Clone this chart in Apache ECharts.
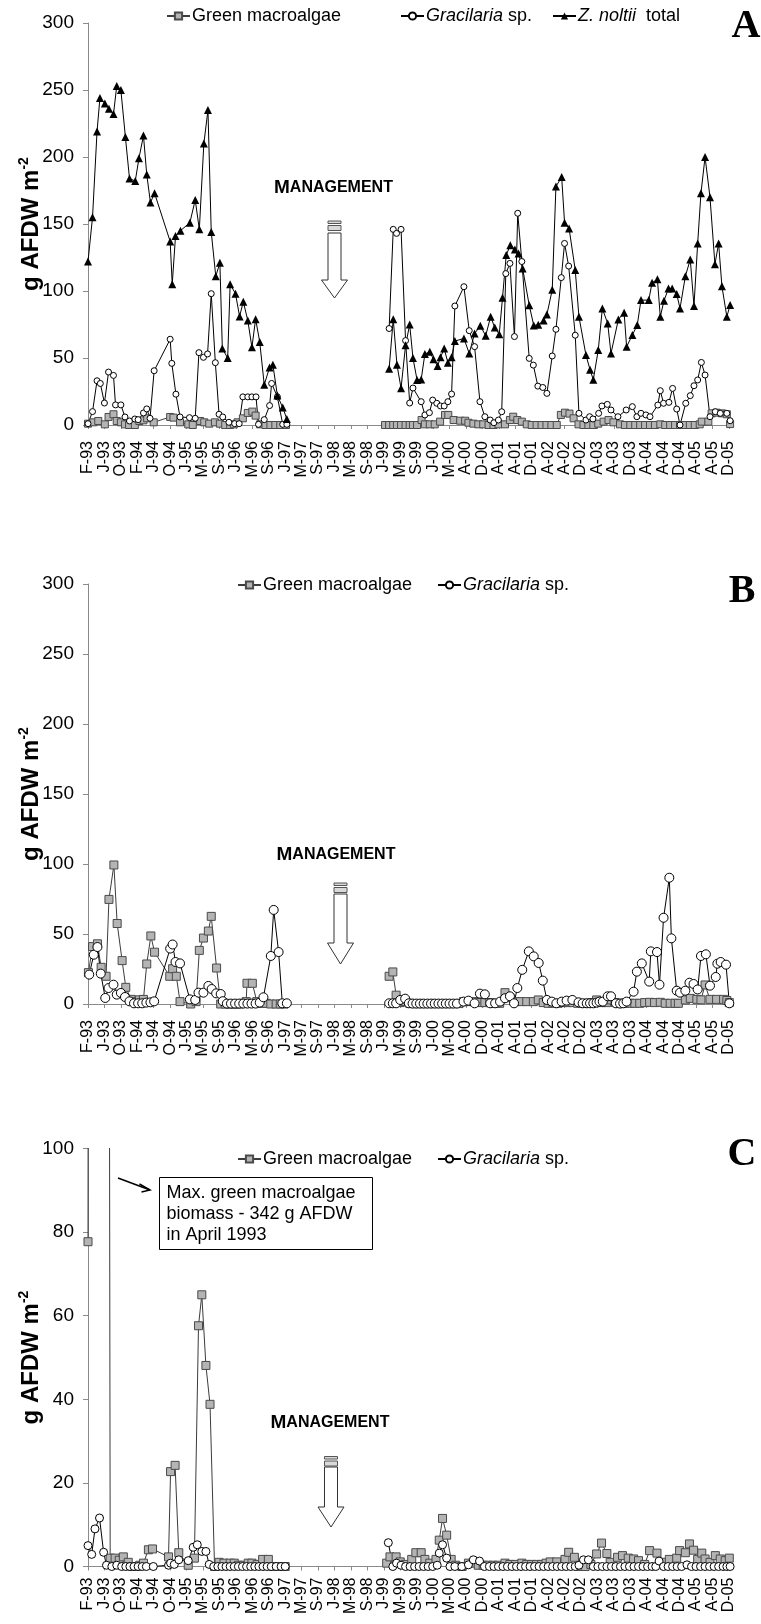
<!DOCTYPE html>
<html>
<head>
<meta charset="utf-8">
<script src="https://cdn.jsdelivr.net/npm/echarts@6/dist/echarts.min.js"></script>
<style>
  html, body { margin: 0; padding: 0; background: #fff; }
  #chart { width: 761px; height: 1624px; }
</style>
</head>
<body>
<div id="chart"></div>
<script>
// x positions are in "slots" (4 slots between two tick labels)
const TICK_LABELS = ['F-93','J-93','O-93','F-94','J-94','O-94','J-95','M-95','S-95','J-96','M-96','S-96',
  'J-97','M-97','S-97','J-98','M-98','S-98','J-99','M-99','S-99','J-00','M-00','A-00','D-00',
  'A-01','A-01','D-01','A-02','A-02','D-02','A-03','A-03','D-03','A-04','A-04','D-04','A-05','A-05','D-05'];
const SLOT_MAX = 157;
const GAP_AT = 60; // no sampling between mid-1997 and mid-1999

// ---- Panel A ----
const A_GREEN = [[0,1],[1.3,2],[2.5,3],[4.1,0.5],[5,6],[6.2,8],[7,3],[8,2],[9,0.5],[10,0],[11.4,0],[12.5,3],[13.5,3.5],[14.4,5],[16,2],
  [20,6],[20.8,5.5],[22.4,2],[24.4,0.5],[25.5,0],[27.3,3],[28.3,2],[29.5,1],[30.9,2],[32.1,1],[33.4,0],[34.6,0],[35.5,0.5],[36.4,2],
  [37.7,5],[38.9,9],[40,10],[40.8,7],[41.9,0.5],[43.2,0],[44.4,0],[45.6,0],[46.8,0],[48.2,0],
  [72.3,0],[73.3,0],[74.3,0],[75.2,0],[76.2,0],[77.3,0],[78.3,0],[79.1,0],[80.1,0],[81.2,3.7],[82,0.5],[83.2,0.5],[84.4,0.5],
  [85.7,2.5],[86.9,7.5],[87.7,7.5],[89,3.7],[90.6,3.2],[91.8,3.2],[92.6,1.7],[93.8,1],[95,0.5],[96.2,0.5],[97.5,0],[98.7,0],
  [99.9,0.5],[101.5,0.5],[102.7,3.7],[103.5,6.2],[104.5,3.7],[105.6,2.5],[106.8,0.5],[108,0],[109.2,0],[110.4,0],[111.6,0],
  [112.8,0],[114.1,0],[115.1,7.5],[116.1,9.2],[117.2,8.5],[118.2,5],[119.4,0.5],[120.6,0],[121.8,0],[123,0],[124.2,1],[125.5,2.5],
  [126.7,3.7],[127.9,2],[129.5,0.5],[130.7,0],[132,0],[133.2,0],[134.4,0],[135.6,0],[136.8,0],[138,0],[139.3,0.5],[140.5,0],
  [141.7,0],[142.9,0],[144.1,0],[145.3,0],[146.5,0],[147.7,0],[148.9,0.5],[149.4,2.5],[151,2.5],[151.8,8.7],[153,9.2],[154.3,8.7],
  [155.5,8],[156.3,0.7]];
const A_GRAC = [[0,1],[1.1,10],[2.2,33],[3,31],[4,16.4],[5,39.5],[6.2,37],[6.7,15],[8,15],[9,6],[10.1,3],[11.4,4.5],[12.2,4],
  [13.5,9],[14.3,12],[15.1,5],[16.1,40.5],[20,64],[20.4,46],[21.4,23],[22.4,6],[24.7,5.5],[26.1,5],[27,54],[28.1,50.5],[29.1,53],
  [30,98],[31,46.5],[31.9,8],[32.8,6],[34.3,2],[35.7,1],[36.8,1],[37.7,21],[38.9,21],[39.9,21],[40.9,21],[41.5,0.5],[42.9,4],
  [44.2,14.5],[44.7,31],[46.1,21],[47.4,0.5],[48.4,0.5],
  [73.3,72],[74.3,146],[75.1,143],[76.2,146],[77.3,63],[78.3,16.4],[79.1,27.6],[81.1,17.4],[82,7.5],[83.1,9.2],[83.9,18.6],
  [84.9,16.2],[85.8,14.2],[86.7,14.2],[87.6,17.4],[88.5,23.1],[89.3,88.8],[91.5,103.2],[92.8,70.4],[94.1,58.5],[95.4,17.4],
  [96.6,6.2],[97.9,3.7],[98.8,1.7],[99.9,3.7],[100.7,9.9],[101.7,113],[102.7,120.6],[103.8,66],[104.6,158],[105.6,122],
  [107.4,49.7],[108.4,44.7],[109.5,29],[110.7,28],[111.7,23.6],[113,51.5],[113.9,71.4],[115.2,110],[116,135.5],[117,118.6],
  [118.6,67],[119.5,8.7],[121.2,3.7],[122.1,6.2],[122.9,4.5],[124.3,8.7],[125.1,14.2],[126.4,15.4],[127.3,11.2],[129,6.2],
  [131,11.2],[132.5,13.7],[133.6,6.2],[134.6,8.7],[135.8,7.5],[136.8,6.2],[138.7,14.9],[139.3,25.6],[140.1,16.2],[141.4,16.9],
  [142.3,27.3],[143.3,11.9],[144.1,0],[145.5,16.2],[146.6,21.9],[147.5,29.3],[148.4,33.6],[149.3,46.7],[150.2,37.3],[151.4,6.2],
  [152.7,9.9],[153.9,8.7],[155.5,8.7],[156.3,3.2]];
const A_ZOS = [[0,122],[1.1,155],[2.2,219],[2.9,244],[4.1,240],[5.1,236],[6.2,232],[7,253],[8,250],[9.1,215],[10.1,184],
  [11.5,182],[12.4,199],[13.5,216],[14.3,187],[15.2,166],[16.2,173],[20,137],[20.5,105],[21.3,141],[22.5,145],[24.8,151],
  [26.1,168],[27.1,146],[28.2,210],[29.2,235],[30,144],[31.1,111],[32.1,121],[32.7,57],[34,50],[34.6,105],[35.9,98],[36.9,81],
  [37.8,92],[38.9,78],[39.9,58],[40.8,79],[41.8,62],[42.9,30],[44.2,43],[45,45],[46.1,22],[47.4,13],[48.4,4.5],
  [73.3,42],[74.3,79],[75.2,45],[76.2,27.5],[77.3,59.5],[78.3,75],[79.1,50],[80.1,33.6],[81.1,34],[82,53],[83.2,54.6],[84.1,49],
  [85.1,44],[85.8,50.5],[86.7,57],[87.6,46.5],[88.5,50.5],[89.3,62.6],[91.5,64.6],[92.8,53.4],[94.1,68.3],[95.5,74],[96.8,66.6],
  [98,80.8],[99,72.8],[100.1,67.8],[100.9,95],[101.8,126.8],[102.8,134.2],[103.9,131],[104.8,128],[105.8,116.8],[107.4,89.4],
  [108.5,74.3],[109.6,74.8],[110.9,78],[111.7,82.4],[113,101],[113.9,178],[115.3,185],[116,151],[117.1,146.7],[118.6,115.6],
  [119.5,80.8],[121.2,52.3],[122.2,41.2],[123,33.8],[124.2,55.9],[125.2,86.9],[126.5,75.8],[127.3,53.4],[129.1,78.8],[130.5,83.8],
  [131.1,58.4],[132.5,67.1],[133.7,74.6],[134.6,93.2],[136.5,93.2],[137.3,106.2],[138.6,108.7],[139.3,80.8],[140.2,92.7],
  [141.3,101.9],[142.2,101.9],[143.3,97.7],[144.1,87],[145.4,111],[146.6,123.5],[147.5,88.8],[148.4,135.5],[149.2,173],
  [150.2,200],[151.4,170],[152.6,120],[153.5,135.5],[154.3,103.6],[155.5,80.8],[156.3,89.5]];

// ---- Panel B ----
const B_GREEN = [[0.1,22.4],[1.1,41],[2.3,43],[3.2,26.2],[4.4,19.8],[5.1,74.7],[6.3,99.3],[7.1,57.5],[8.3,31],[9.2,11.9],
  [10.5,3.3],[11.4,1.7],[12.5,3],[13.5,3.3],[14.3,28.6],[15.3,48.6],[16.2,37],[19.9,19.8],[20.6,25.2],[21.5,19.8],[22.4,1.7],
  [25,0],[26.3,1.7],[27.1,38.3],[28.1,47.1],[29.3,52.1],[30,62.6],[31.3,25.7],[32.3,0],[33.4,0],[34.6,0],[35.7,0],[36.8,0],
  [37.8,0.5],[38.5,1.7],[38.7,14.8],[40,14.8],[41.1,1.7],[42.3,0.5],[43.4,0.5],[44.5,0],[45.8,0],[46.8,0],[47.7,0],
  [73.3,19.8],[74.2,22.9],[75,6.3],[76,1],[77.2,1.7],[78.3,0.5],[79.5,0.3],[80.7,0.3],[81.9,0.3],[83.1,0.3],[84.3,0.3],
  [85.5,0.3],[86.7,0.3],[87.9,0.3],[89.1,0.3],[90.3,0.3],[91.4,1.7],[92.6,1.7],[94,1.7],[95.4,1],[96.6,1],[97.8,1],[99,0.5],
  [100.2,0.5],[101.5,8.1],[102.7,4.5],[104,1.7],[105.2,1.7],[106.8,1.7],[108.4,1.7],[109.6,2.9],[110.8,1],[112,0.5],[113.2,0.5],
  [114.4,0.5],[115.6,1],[116.8,1],[118,1],[119.2,0.5],[120.4,0.5],[121.6,0.5],[122.8,1],[123.8,2.9],[125,1],[126.2,1],[127.1,2.9],
  [128.3,1],[129.5,0.5],[130.7,0.5],[131.9,0.5],[133.1,0.5],[134.3,0.5],[135.5,1],[136.7,1.2],[137.9,1],[139.3,1.2],[140.5,0.5],
  [141.7,0.5],[142.9,0.5],[143.7,0.5],[145.4,2.9],[146.6,4],[148.2,3.3],[149.2,3],[150.2,13.6],[151.4,3.3],[153,3.3],[154.7,3.3],
  [155.5,2.5],[156.1,1]];
const B_GRAC = [[0.3,21],[1.4,35.2],[2.3,40.7],[3.1,21.7],[4.2,4.3],[5,11.4],[6.2,13.8],[7,6.7],[8,7.9],[9,5],[10.1,1.9],
  [11.2,0.5],[12.2,0.5],[13.2,0.5],[14.2,1],[15.2,1.2],[16.1,1.9],[20,39.6],[20.6,42.5],[21.3,30],[22.4,29],[24.8,3.3],
  [26.1,2.9],[26.9,8.1],[28.1,8.1],[29.3,12.9],[30.1,10.7],[31.2,7.6],[32.3,7.1],[32.8,2],[33.8,0.3],[34.8,0.3],[35.8,0.3],
  [36.8,0.3],[37.8,0.3],[38.8,0.3],[39.8,0.3],[40.8,0.3],[41.8,1],[42.7,4.8],[44.5,34.3],[45.2,67.2],[46.4,37.1],[47.3,0.5],[48.4,0.5],
  [73.3,0.5],[74.2,0.5],[75,0.5],[76,2.9],[77.2,3.8],[78.1,0.5],[79,0.3],[79.9,0.3],[80.8,0.3],[81.7,0.3],[82.6,0.3],[83.5,0.3],
  [84.4,0.3],[85.3,0.3],[86.2,0.3],[87.1,0.3],[88,0.3],[88.9,0.3],[89.8,0.3],[91.4,1.7],[92.6,2.4],[94.1,0.5],[95.4,7.4],
  [96.6,6.9],[97.9,0.5],[99.1,0.5],[100.3,1.7],[101.5,4.1],[102.7,5.5],[103.7,0.5],[104.5,11.4],[105.7,24.4],[107.3,37.6],
  [108.5,34],[109.7,29.3],[110.7,16.7],[111.7,2.9],[112.9,1.7],[114,0.5],[115.3,1.7],[116.5,2.4],[117.9,2.9],[119.4,1.2],
  [120.4,0.5],[121.4,0.5],[122.2,0.5],[123,0.5],[123.8,1],[124.5,1.7],[125.3,1.7],[126.5,5.5],[127.3,5.5],[128.5,0.5],[129.5,0.3],
  [130.3,0.5],[131.1,1.7],[132.8,8.8],[133.6,23.1],[134.8,29],[136.6,16],[137,37.6],[138.5,37.1],[139.1,13.8],[140.1,61.6],
  [141.5,90.2],[142,46.9],[143.3,9.5],[144.1,8.1],[145.4,9.5],[146.4,15.2],[147.4,14.3],[148.4,10.4],[149.2,34.3],[150.4,35.5],
  [151.4,13.1],[152.8,19.3],[153.2,28.8],[154,30],[155.3,28.1],[156.1,0.5]];

// ---- Panel C (April 1993 peak of 342 runs off the top) ----
const C_GREEN = [[0,77.7],[0.25,342],[5.1,200],[5.4,2],[6.6,2],[7.6,1.5],[8.6,2.3],[9.8,1],[10.8,0],[11.8,0],[12.6,0.3],
  [13.5,0.8],[14.7,4],[15.7,4.2],[19.6,2.3],[20.1,22.7],[21.2,24.2],[22.1,3.3],[24.4,0.3],[25.9,2],[26.9,57.6],[27.7,65],
  [28.7,48.1],[29.7,38.8],[30.8,0],[31.9,1],[33.1,0.8],[34.6,0.8],[35.6,0.8],[36.6,0.3],[37.8,0.3],[39,0.8],[39.9,0.8],
  [41.2,0.5],[42.5,1.7],[43.9,1.7],[45.1,0],[46.5,0],[48,0],
  [72.7,0.8],[73.5,2.3],[75,2.3],[76,1.1],[77.2,0.5],[78.8,1.7],[79.8,3.3],[81.1,3.3],[82,1.7],[83.2,0.8],[84.7,1.7],[85.5,6.3],
  [86.3,11.5],[87.3,7.5],[88.4,1.7],[89.5,0.3],[91,0],[92.6,0.8],[93.8,0.8],[95,0.3],[96.2,0.3],[97.4,0.3],[98.6,0.3],[99.8,0.3],
  [101.5,0.8],[102.7,0.5],[104,0.5],[105.6,0.8],[106.8,0.5],[108,0.5],[109.2,0.5],[110.4,0.5],[111.5,0.8],[112.5,1.1],[114.1,1.1],
  [116.1,1.7],[117,3.4],[118.4,2.2],[119.8,0],[121,0],[122.4,0.5],[123.8,3],[125,5.6],[126.3,3.1],[127.1,1],[128.9,2.2],
  [130.1,2.6],[131.5,2],[132.8,1.8],[134,1.4],[135.5,0.5],[136.7,3.8],[138.5,3.2],[140,1],[141.5,1.7],[143.3,2],[144,3.8],
  [145.4,3.3],[146.4,5.4],[147.4,3.9],[148.4,1.7],[149.4,3.2],[150.2,1.8],[151.4,1],[152.7,2.6],[153.9,1.8],[155.1,1.4],[156.1,2]];
const C_GRAC = [[0,5],[0.9,2.9],[1.7,9],[2.8,11.6],[3.8,3.4],[4.5,0.3],[5.8,0],[7,0.3],[8.2,0],[9.2,0],[10.2,0],[11.2,0],
  [12.2,0],[13.2,0],[14.2,0],[15.9,0],[19.6,0.3],[20.1,0.8],[21,0.5],[22.1,1.6],[24.4,1.4],[25.6,4.6],[26.6,5.2],[27.7,3.6],
  [28.7,3.6],[29.5,0.5],[30.6,0],[31.6,0],[32.6,0],[33.6,0],[34.6,0],[35.6,0],[36.6,0],[37.6,0],[38.6,0],[39.6,0],[40.6,0],
  [41.6,0],[42.6,0],[43.6,0],[44.6,0],[45.8,0],[47,0],[48,0],
  [73.1,5.7],[74.2,0],[75.1,0.8],[76.2,0.3],[77.3,0],[78.4,0],[79.5,0],[80.6,0],[81.7,0],[82.8,0],[83.9,0],[85,0.3],[85.5,3.2],
  [86.3,5.2],[87.3,2],[88.1,0],[89.3,0],[91,0],[92.6,0.4],[93.8,1.6],[95.3,1.3],[96.5,0],[97.7,0],[98.8,0],[99.9,0],[101,0],
  [102.1,0],[103.2,0],[104.3,0],[105.4,0],[106.5,0],[107.6,0],[108.7,0],[109.8,0],[110.9,0],[112,0],[113.1,0],[114.2,0],
  [115.3,0],[116.4,0],[117.5,0],[118.6,0],[119.5,0.3],[120.6,1.6],[121.8,1.6],[123,0],[124.1,0],[125.2,0],[126.3,0],[127.4,0],
  [128.5,0],[129.6,0],[130.7,0],[131.8,0],[132.9,0],[134,0],[135.1,0],[136.2,0],[137.3,0],[138.2,0],[139,1.3],[140.1,0],
  [141.2,0],[142.3,0],[143.4,0],[144.5,0],[145.8,0.4],[146.9,0],[148,0],[149.1,0],[150.2,0],[151.3,0],[152.4,0],[153.5,0],
  [154.6,0],[155.5,0],[156.3,0]];

const FONT = '"Liberation Sans", Arial, sans-serif';
const TICK_VALUES = TICK_LABELS.map((_, i) => i * 4);
const AXIS_GREY = '#8a8a8a';

// break the line across the management gap
function withGap(data) {
  const out = [];
  data.forEach((p, i) => {
    if (i > 0 && data[i - 1][0] < GAP_AT && p[0] > GAP_AT) out.push([GAP_AT, '-']);
    out.push(p);
  });
  return out;
}

const STYLES = {
  green: { symbol: 'rect', itemStyle: { color: '#b4b4b4', borderColor: '#4a4a4a', borderWidth: 1 }, lineStyle: { color: '#3c3c3c', width: 1 } },
  grac:  { symbol: 'circle', itemStyle: { color: '#fff', borderColor: '#000', borderWidth: 1 }, lineStyle: { color: '#000', width: 1 } },
  zos:   { symbol: 'triangle', itemStyle: { color: '#000', borderColor: '#000', borderWidth: 0 }, lineStyle: { color: '#000', width: 1 } }
};

function line(name, panel, data, kind, size) {
  const s = STYLES[kind];
  return {
    name: name + '#' + panel, type: 'line', xAxisIndex: panel, yAxisIndex: panel,
    data: withGap(data), symbol: s.symbol, symbolSize: size,
    itemStyle: s.itemStyle, lineStyle: s.lineStyle, connectNulls: false,
    animation: false, emphasis: { disabled: true }, z: 2
  };
}

const LEGEND_TEXT = {
  'Green macroalgae': 'Green macroalgae',
  'Gracilaria sp.': '{i|Gracilaria} sp.',
  'Z. noltii total': '{i|Z. noltii}  total'
};
function legend(name, left, top) {
  return {
    data: [name], left, top, padding: 0, itemWidth: 23, itemHeight: 9, selectedMode: false,
    formatter: n => LEGEND_TEXT[n.split('#')[0]],
    textStyle: { fontSize: 18, fontFamily: FONT, color: '#000', padding: [0, 0, 0, -3],
      rich: { i: { fontSize: 18, fontFamily: FONT, fontStyle: 'italic', color: '#000' } } }
  };
}

const GRIDS = [
  { left: 88, top: 23, width: 645, height: 402 },
  { left: 88, top: 584, width: 645, height: 420 },
  { left: 88, top: 1148.5, width: 645, height: 418 }
];

function xAxis(i, margin) {
  return {
    type: 'value', gridIndex: i, min: 0, max: SLOT_MAX,
    axisLine: { show: true, lineStyle: { color: AXIS_GREY, width: 1 } },
    splitLine: { show: false },
    axisTick: { show: true, customValues: TICK_VALUES, length: 4, lineStyle: { color: AXIS_GREY } },
    axisLabel: { customValues: TICK_VALUES, rotate: 90, margin, fontSize: 16, lineHeight: 13, fontFamily: FONT, color: '#000',
      hideOverlap: false, formatter: v => TICK_LABELS[Math.round(v / 4)] }
  };
}
function yAxis(i, max, interval) {
  return {
    type: 'value', gridIndex: i, min: 0, max, interval,
    axisLine: { show: true, lineStyle: { color: AXIS_GREY, width: 1 } },
    axisTick: { show: true, length: 5, lineStyle: { color: AXIS_GREY } },
    splitLine: { show: false },
    axisLabel: { fontSize: 19, fontFamily: FONT, color: '#000', margin: 14 },
    name: '{n|g AFDW m}{s|-2}', nameLocation: 'middle', nameGap: 43, nameRotate: 90, nameMoveOverlap: false,
    nameTextStyle: { rich: {
      n: { fontSize: 24, fontWeight: 'bold', fontFamily: FONT, color: '#000', lineHeight: 28 },
      s: { fontSize: 14, fontWeight: 'bold', fontFamily: FONT, color: '#000', lineHeight: 15, verticalAlign: 'top' }
    } }
  };
}

// management label plus block arrow
function management(textX, textY, cx, stripeTop, shaftTop, headY, tipY) {
  const stripe = { fill: '#d9d9d9', stroke: '#555', lineWidth: 1 };
  return [
    { type: 'text', x: textX, y: textY, style: {
      text: '{m|M}{s|ANAGEMENT}', verticalAlign: 'middle', align: 'left',
      rich: { m: { fontSize: 19, fontWeight: 'bold', fontFamily: FONT, fill: '#000' },
              s: { fontSize: 16, fontWeight: 'bold', fontFamily: FONT, fill: '#000' } } } },
    { type: 'rect', shape: { x: cx - 6.5, y: stripeTop, width: 13, height: 2.5 }, style: stripe },
    { type: 'rect', shape: { x: cx - 6.5, y: stripeTop + 4.5, width: 13, height: 5 }, style: stripe },
    { type: 'polygon', shape: { points: [[cx - 6.5, shaftTop], [cx + 6.5, shaftTop], [cx + 6.5, headY], [cx + 13, headY],
      [cx, tipY], [cx - 13, headY], [cx - 6.5, headY]] }, style: { fill: '#fff', stroke: '#333', lineWidth: 1 } }
  ];
}
function panelLetter(ch, x, y) {
  return { type: 'text', x, y, style: { text: ch, align: 'center', verticalAlign: 'middle',
    fontFamily: '"Liberation Serif", "Times New Roman", serif', fontWeight: 'bold', fontSize: 40, fill: '#000' } };
}

const chart = echarts.init(document.getElementById('chart'), null, { renderer: 'canvas' });

chart.setOption({
  backgroundColor: '#fff',
  animation: false,
  grid: GRIDS,
  xAxis: [xAxis(0, 16), xAxis(1, 16), xAxis(2, 11)],
  yAxis: [yAxis(0, 300, 50), yAxis(1, 300, 50), yAxis(2, 100, 20)],
  legend: [
    legend('Green macroalgae#0', 166, 7),
    legend('Gracilaria sp.#0', 400, 7),
    legend('Z. noltii total#0', 552, 7),
    legend('Green macroalgae#1', 237, 576),
    legend('Gracilaria sp.#1', 437, 576),
    legend('Green macroalgae#2', 237, 1150),
    legend('Gracilaria sp.#2', 437, 1150)
  ],
  series: [
    line('Green macroalgae', 0, A_GREEN, 'green', 7),
    line('Gracilaria sp.', 0, A_GRAC, 'grac', 6),
    line('Z. noltii total', 0, A_ZOS, 'zos', 8),
    line('Green macroalgae', 1, B_GREEN, 'green', 8),
    line('Gracilaria sp.', 1, B_GRAC, 'grac', 9),
    line('Green macroalgae', 2, C_GREEN, 'green', 8),
    line('Gracilaria sp.', 2, C_GRAC, 'grac', 8)
  ],
  graphic: [
    ...management(274, 188, 334.5, 221, 233, 280, 298),
    ...management(276.5, 855, 340.5, 883, 894, 943, 964),
    ...management(270.5, 1423, 331, 1456.5, 1467, 1507, 1527),
    panelLetter('A', 746, 27),
    panelLetter('B', 742, 592),
    panelLetter('C', 742, 1155),
    { type: 'rect', shape: { x: 159.5, y: 1177.5, width: 213, height: 72 }, style: { fill: '#fff', stroke: '#000', lineWidth: 1 } },
    { type: 'text', x: 166.5, y: 1182.5, style: { text: 'Max. green macroalgae\nbiomass - 342 g AFDW\nin April 1993',
      fontSize: 18, lineHeight: 21, fontFamily: FONT, fill: '#000', verticalAlign: 'top', align: 'left' } },
    { type: 'line', shape: { x1: 118, y1: 1178, x2: 150, y2: 1190 }, style: { stroke: '#000', lineWidth: 1.5 } },
    { type: 'polyline', shape: { points: [[139.5, 1184], [150, 1190], [141.5, 1192]] }, style: { stroke: '#000', lineWidth: 1.5, fill: null } }
  ]
});
</script>
</body>
</html>
